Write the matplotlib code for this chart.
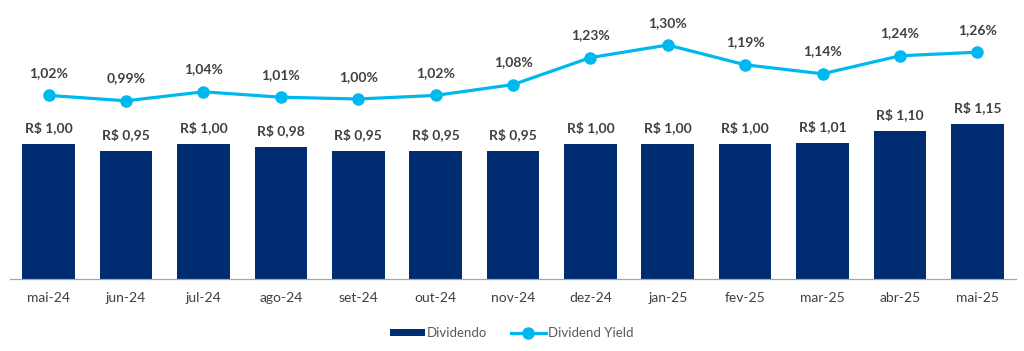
import numpy as np
import matplotlib.pyplot as plt

meses = ["mai-24", "jun-24", "jul-24", "ago-24", "set-24", "out-24", "nov-24",
         "dez-24", "jan-25", "fev-25", "mar-25", "abr-25", "mai-25"]
dividendo = [1.00, 0.95, 1.00, 0.98, 0.95, 0.95, 0.95, 1.00, 1.00, 1.00, 1.01, 1.10, 1.15]
dy = [1.02, 0.99, 1.04, 1.01, 1.00, 1.02, 1.08, 1.23, 1.30, 1.19, 1.14, 1.24, 1.26]

cor_barra = "#002D72"
cor_linha = "#00B8F0"
cor_txt = "#404040"

plt.rcParams['font.family'] = ['Lato', 'DejaVu Sans']

fig = plt.figure(figsize=(10.24, 3.51), dpi=100)
ax = fig.add_axes([10 / 1024, 72 / 351, 1006 / 1024, 259 / 351])
ax2 = ax.twinx()

x = np.arange(len(meses))
ax.bar(x, dividendo, width=0.68, color=cor_barra, zorder=2, label="Dividendo")
ax2.plot(x, dy, color=cor_linha, lw=2.3, marker="o", ms=8, zorder=3, label="Dividend Yield")

ax.set_xlim(-0.5, len(meses) - 0.5)
ax.set_ylim(0, 259 / 135)
ax2.set_ylim(0, 259 / 180)

# rótulos
for i, v in enumerate(dividendo):
    ax.annotate("R$ " + f"{v:.2f}".replace(".", ","), (i, v), xytext=(0, 11.5),
                textcoords="offset points", ha="center", va="center",
                fontsize=10, fontweight="bold", color=cor_txt)
for i, v in enumerate(dy):
    ax2.annotate(f"{v:.2f}%".replace(".", ","), (i, v), xytext=(0, 16),
                 textcoords="offset points", ha="center", va="center",
                 fontsize=10, fontweight="bold", color=cor_txt)

ax.set_xticks(x)
ax.set_xticklabels(meses, fontsize=10, color=cor_txt)
ax.tick_params(axis="x", length=0, pad=9)
ax.set_yticks([])
ax2.set_yticks([])
for a in (ax, ax2):
    for s in ("top", "left", "right"):
        a.spines[s].set_visible(False)
    a.spines["bottom"].set_color("#A6A6A6")

h1, l1 = ax.get_legend_handles_labels()
h2, l2 = ax2.get_legend_handles_labels()
fig.legend(h1 + h2, l1 + l2, loc="center", bbox_to_anchor=(0.5, 18 / 351), ncol=2,
           frameon=False, fontsize=9.5, labelcolor="#595959", handlelength=2.6,
           handleheight=0.5, handletextpad=0.2, columnspacing=1.8)

fig.savefig("out.png", dpi=100)
